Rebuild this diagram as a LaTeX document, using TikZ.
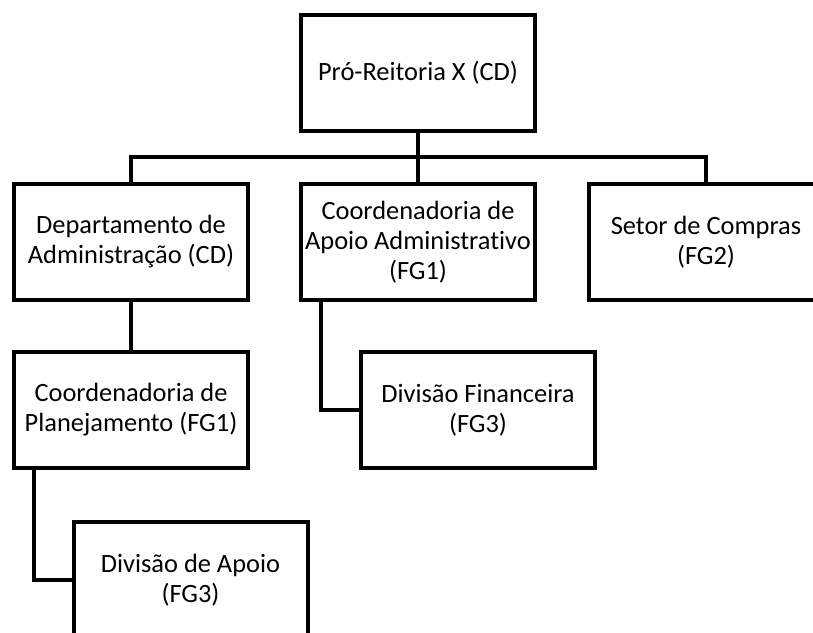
\documentclass[tikz,border=0pt]{standalone}
\usepackage{fontspec}
\setmainfont[Ligatures=NoCommon]{Carlito}
\usepackage{tikz}

\begin{document}
\begin{tikzpicture}[x=0.5pt,y=-0.5pt,
  unit/.style={rectangle,draw,line width=2pt,minimum width=117pt,minimum height=58pt,
    align=center,inner sep=0pt,font=\fontsize{13.2}{15}\selectfont},
  link/.style={line width=2pt}]
\useasboundingbox (0,0) rectangle (813,632);
\clip (0,0) rectangle (813,632);

\node[unit] (reitoria) at (418,73) {Pró-Reitoria X (CD)};
\node[unit] (depto) at (131,242) {Departamento de\\Administração (CD)};
\node[unit] (coordapoio) at (418,242) {Coordenadoria de\\Apoio Administrativo\\(FG1)};
\node[unit] (setor) at (706,242) {Setor de Compras\\(FG2)};
\node[unit] (coordplan) at (131,410) {Coordenadoria de\\Planejamento (FG1)};
\node[unit] (divfin) at (478,410) {Divisão Financeira\\(FG3)};
\node[unit] (divapoio) at (190.5,580) {Divisão de Apoio\\(FG3)};

\coordinate (bar) at (418,157);

\draw[link] (reitoria) -- (bar);
\draw[link] (depto.north) |- (bar) -| (setor.north);
\draw[link] (bar) -- (coordapoio);
\draw[link] (depto) -- (coordplan);
\draw[link] ([xshift=11pt]coordapoio.south west) |- (divfin.west);
\draw[link] ([xshift=11pt]coordplan.south west) |- (divapoio.west);
\end{tikzpicture}
\end{document}
